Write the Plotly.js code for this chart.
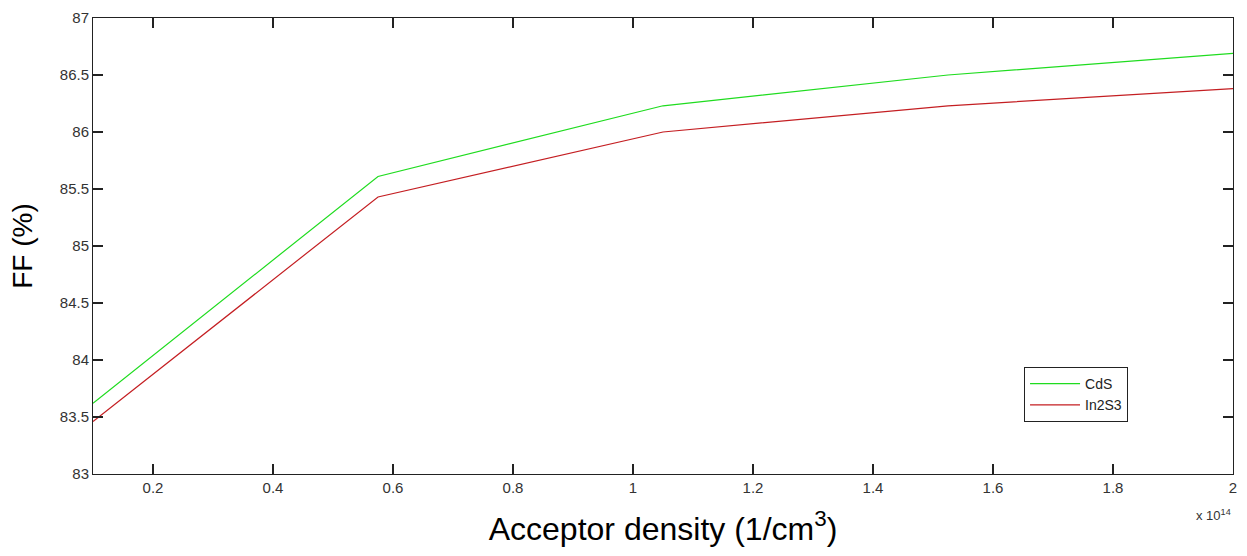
<!DOCTYPE html>
<html>
<head>
<meta charset="utf-8">
<script src="https://cdn.plot.ly/plotly-3.0.1.min.js"></script>
<style>html,body{margin:0;padding:0;background:#fff;}#chart{width:1247px;height:556px;}</style>
</head>
<body>
<div id="chart"></div>
<script>
// Acceptor density in 1/cm^3
var acceptorDensity = [0.1e14, 0.575e14, 1.05e14, 1.525e14, 2.0e14];
var ffCdS   = [83.62, 85.61, 86.23, 86.50, 86.69];
var ffIn2S3 = [83.46, 85.43, 86.00, 86.23, 86.38];
var xTickVals = [0.2e14, 0.4e14, 0.6e14, 0.8e14, 1.0e14, 1.2e14, 1.4e14, 1.6e14, 1.8e14, 2.0e14];
var xTickText = ['0.2','0.4','0.6','0.8','1','1.2','1.4','1.6','1.8','2'];
var seriesNames = ['CdS', 'In2S3'];

var font = 'Liberation Sans, Arial, Helvetica, sans-serif';

var traces = [
  {x: acceptorDensity, y: ffCdS, name: seriesNames[0], mode: 'lines',
   line: {color: '#1fdc1f', width: 1.2}},
  {x: acceptorDensity, y: ffIn2S3, name: seriesNames[1], mode: 'lines',
   line: {color: '#c41e22', width: 1.2}}
];

var axisCommon = {
  showgrid: false, zeroline: false, showline: true, linecolor: '#222', linewidth: 1,
  mirror: 'allticks', ticks: 'inside', ticklen: 10, tickcolor: '#222', tickwidth: 1.2,
  tickfont: {family: font, size: 15, color: '#333'}
};

var layout = {
  width: 1247, height: 556,
  margin: {l: 93, r: 14, t: 18, b: 82},
  paper_bgcolor: '#fff', plot_bgcolor: '#fff',
  showlegend: true,
  legend: {x: 0.8167, y: 0.114, xanchor: 'left', yanchor: 'bottom',
    bordercolor: '#222', borderwidth: 1, bgcolor: '#fff',
    font: {family: font, size: 14, color: '#222'}, tracegroupgap: 0, itemwidth: 50},
  xaxis: Object.assign({}, axisCommon, {
    range: [0.1e14, 2.0e14], tickmode: 'array', tickvals: xTickVals, ticktext: xTickText,
    title: {text: 'Acceptor density (1/cm<sup>3</sup>)', font: {family: font, size: 32, color: '#000'}, standoff: 22}
  }),
  yaxis: Object.assign({}, axisCommon, {
    range: [83, 87], dtick: 0.5, tick0: 83,
    title: {text: 'FF (%)', font: {family: font, size: 28, color: '#000'}, standoff: 18}
  }),
  annotations: [{
    xref: 'paper', yref: 'paper', x: 1, y: 0, xanchor: 'right', yanchor: 'top',
    yshift: -31, showarrow: false,
    text: 'x 10<sup>14</sup>', font: {family: font, size: 13, color: '#333'}
  }]
};

Plotly.newPlot('chart', traces, layout, {displayModeBar: false, staticPlot: true});
</script>
</body>
</html>
